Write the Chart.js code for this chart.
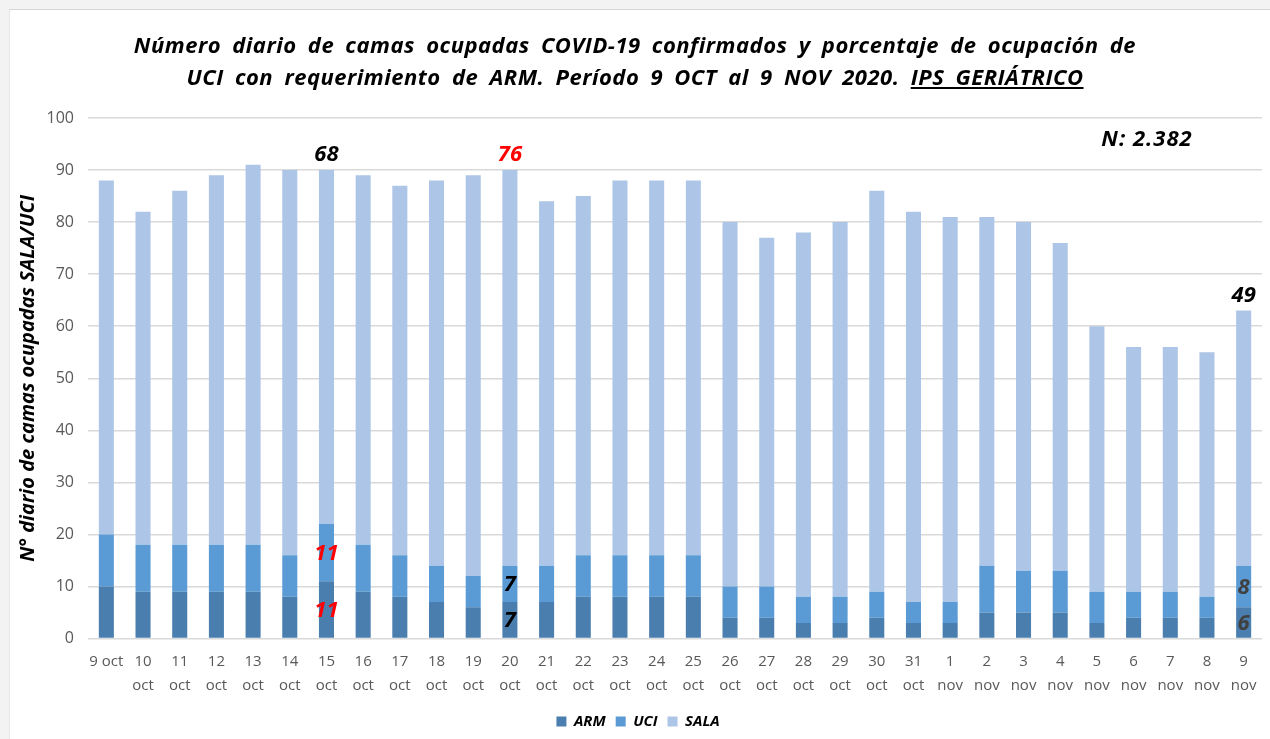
<!DOCTYPE html>
<html><head><meta charset="utf-8">
<script src="https://cdn.jsdelivr.net/npm/chart.js@4"></script>
<style>
html,body{margin:0;padding:0;background:#f3f3f3;}
#wrap{position:relative;width:1270px;height:739px;overflow:hidden;background:#f3f3f3;}
#panel{position:absolute;left:9px;top:9px;width:1280px;height:760px;background:#fff;border-top:1px solid #d6d6d6;border-left:1px solid #e6e6e6;}
#title{position:absolute;left:0;top:28px;width:1270px;text-align:center;font:italic 700 22px "Open Sans", sans-serif;line-height:32px;color:#000;word-spacing:5px;letter-spacing:0.5px;}
canvas{position:absolute;left:0;top:0;}
</style></head><body>
<div id="wrap"><div id="panel"></div><canvas id="c" width="1270" height="739"></canvas>
<div id="title">Número diario de camas ocupadas COVID-19 confirmados y porcentaje de ocupación de<br>UCI con requerimiento de ARM. Período 9 OCT al 9 NOV 2020. <u>IPS GERIÁTRICO</u></div></div>
<script>
const categories = ['9 oct','10 oct','11 oct','12 oct','13 oct','14 oct','15 oct','16 oct','17 oct','18 oct','19 oct','20 oct','21 oct','22 oct','23 oct','24 oct','25 oct','26 oct','27 oct','28 oct','29 oct','30 oct','31 oct','1 nov','2 nov','3 nov','4 nov','5 nov','6 nov','7 nov','8 nov','9 nov'];
const armValues  = [10,9,9,9,9,8,11,9,8,7,6,7,7,8,8,8,8,4,4,3,3,4,3,3,5,5,5,3,4,4,4,6];
const uciValues  = [10,9,9,9,9,8,11,9,8,7,6,7,7,8,8,8,8,6,6,5,5,5,4,4,9,8,8,6,5,5,4,8];
const salaValues = [68,64,68,71,73,74,68,71,71,74,77,76,70,69,72,72,72,70,67,70,72,77,75,74,67,67,63,51,47,47,47,49];
const yTicks = [0,10,20,30,40,50,60,70,80,90,100];
// highlighted value labels: [seriesIndex, categoryIndex, color]
const valueLabels = [
  [0, 6, '#ff0000'], [1, 6, '#ff0000'], [2, 6, '#000000'],
  [0, 11, '#000000'], [1, 11, '#000000'], [2, 11, '#ff0000'],
  [0, 31, '#404040'], [1, 31, '#404040'], [2, 31, '#000000']
];
const nText = 'N: 2.382';

const FONT = '"Open Sans", sans-serif';

const labelPlugin = {
  id: 'labelPlugin',
  afterDatasetsDraw(chart) {
    const ctx = chart.ctx;
    ctx.save();
    ctx.font = 'italic 700 22px ' + FONT;
    ctx.textAlign = 'center';
    ctx.textBaseline = 'middle';
    valueLabels.forEach(([ds, idx, color]) => {
      const el = chart.getDatasetMeta(ds).data[idx];
      const v = chart.data.datasets[ds].data[idx];
      ctx.fillStyle = color;
      if (ds === 2) {
        ctx.fillText(String(v), el.x, el.y - 15);
      } else {
        ctx.fillText(String(v), el.x, (el.y + el.base) / 2 + 1);
      }
    });
    ctx.fillStyle = '#000';
    if ('letterSpacing' in ctx) ctx.letterSpacing = '1px';
    ctx.fillText(nText, 1147, 140);
    ctx.restore();
  }
};

new Chart(document.getElementById('c'), {
  type: 'bar',
  data: {
    labels: categories,
    datasets: [
      {label: 'ARM', data: armValues, backgroundColor: '#4a7eaf'},
      {label: 'UCI', data: uciValues, backgroundColor: '#5a9bd5'},
      {label: 'SALA', data: salaValues, backgroundColor: '#adc5e6'}
    ]
  },
  options: {
    responsive: false,
    animation: false,
    devicePixelRatio: 1,
    layout: {padding: {top: 118, left: 14, right: 8, bottom: 0}},
    datasets: {bar: {barPercentage: 0.41, categoryPercentage: 1}},
    plugins: {
      legend: {
        position: 'bottom',
        labels: {boxWidth: 10, boxHeight: 10, padding: 10, color: '#000', font: {family: FONT, size: 15, style: 'italic', weight: 'bold'}}
      },
      title: {display: false},
      tooltip: {enabled: false}
    },
    scales: {
      x: {
        stacked: true,
        grid: {display: false},
        border: {display: false},
        afterFit: (s) => { s.height += 3; },
        ticks: {
          color: '#595959', font: {family: FONT, size: 15, lineHeight: 1.55}, maxRotation: 0, autoSkip: false, padding: 4,
          callback: function(v, i) { const s = categories[i]; return i === 0 ? s : s.split(' '); }
        }
      },
      y: {
        stacked: true, min: 0, max: 100,
        afterBuildTicks: (s) => { s.ticks = yTicks.map(v => ({value: v})); },
        afterFit: (s) => { s.width = 74; },
        grid: {color: '#d9d9d9', lineWidth: 1.5, drawTicks: false},
        border: {display: false},
        ticks: {color: '#595959', font: {family: FONT, size: 16}, padding: 14},
        title: {display: true, text: 'N° diario de camas ocupadas SALA/UCI', color: '#000', font: {family: FONT, size: 20, style: 'italic', weight: 'bold'}, padding: 2}
      }
    }
  },
  plugins: [labelPlugin]
});
</script>
</body></html>
